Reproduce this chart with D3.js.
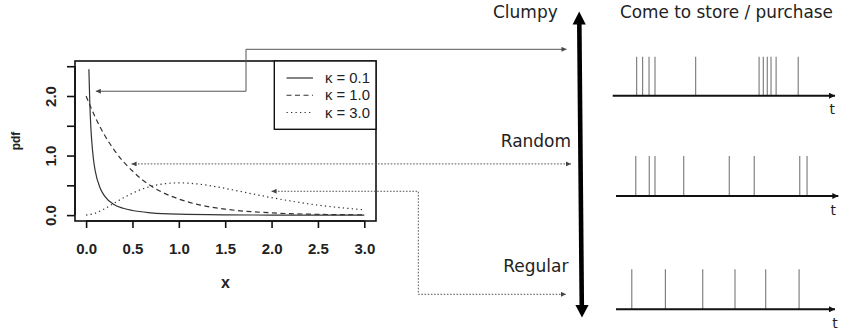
<!DOCTYPE html>
<html>
<head>
<meta charset="utf-8">
<script src="https://cdn.jsdelivr.net/npm/d3@7"></script>
<style>
  html, body { margin: 0; padding: 0; background: #fff; }
  svg { display: block; }
</style>
</head>
<body>
<svg id="fig" width="841" height="331"></svg>
<script>
// Gamma densities (rate 2) for three shape values
const x01   = [0.03, 0.04, 0.05, 0.06, 0.08, 0.1, 0.15, 0.2, 0.3, 0.4, 0.5, 0.7, 1.0, 1.5, 2.0, 2.5, 3.0];
const pdf01 = [2.45, 1.88, 1.51, 1.26, 0.93, 0.73, 0.46, 0.32, 0.18, 0.115, 0.077, 0.038, 0.015, 0.004, 0.001, 0.0003, 0.0001];
const x10   = [0, 0.1, 0.2, 0.3, 0.4, 0.5, 0.6, 0.8, 1.0, 1.2, 1.5, 2.0, 2.5, 3.0];
const pdf10 = [2.0, 1.64, 1.34, 1.10, 0.90, 0.74, 0.60, 0.40, 0.27, 0.18, 0.10, 0.037, 0.013, 0.005];
const x30   = [0, 0.1, 0.2, 0.3, 0.4, 0.5, 0.6, 0.7, 0.8, 0.9, 1.0, 1.2, 1.4, 1.6, 1.8, 2.0, 2.2, 2.5, 2.8, 3.0];
const pdf30 = [0, 0.033, 0.107, 0.198, 0.287, 0.368, 0.434, 0.483, 0.517, 0.535, 0.541, 0.523, 0.477, 0.418, 0.354, 0.293, 0.238, 0.168, 0.116, 0.089];

const legendLabels = ["κ = 0.1", "κ = 1.0", "κ = 3.0"];
const xTicks = [0, 0.5, 1.0, 1.5, 2.0, 2.5, 3.0];
const yTicks = [0, 0.5, 1.0, 1.5, 2.0, 2.5];
const yTickLabels = ["0.0", "", "1.0", "", "2.0", ""];

// Purchase timelines (time units 0-100)
const patternNames = ["Clumpy", "Random", "Regular"];
const clumpyTimes  = [9.8, 12.5, 15.4, 18.1, 36.5, 65.2, 67.1, 68.9, 70.6, 72.9, 82.9];
const randomTimes  = [9.4, 15.5, 18.1, 31.1, 51.7, 63.0, 83.6, 86.9];
const regularTimes = [7.6, 22.8, 39.7, 54.3, 68.2, 83.3];

// Points on the curves that the pattern arrows refer to
const pointClumpy  = [0.105, 2.08];
const pointRandom  = [0.49, 0.86];
const pointRegular = [2.0, 0.40];

const svg = d3.select("#fig");
const defs = svg.append("defs");
defs.append("marker")
  .attr("id", "head").attr("viewBox", "0 0 10 10")
  .attr("refX", 10).attr("refY", 5)
  .attr("markerWidth", 7).attr("markerHeight", 5)
  .attr("markerUnits", "userSpaceOnUse")
  .attr("orient", "auto-start-reverse")
  .append("path").attr("d", "M0,0L10,5L0,10Z").attr("fill", "#444");
defs.append("marker")
  .attr("id", "headT").attr("viewBox", "0 0 10 10")
  .attr("refX", 10).attr("refY", 5)
  .attr("markerWidth", 7).attr("markerHeight", 6)
  .attr("markerUnits", "userSpaceOnUse")
  .attr("orient", "auto")
  .append("path").attr("d", "M0,0L10,5L0,10Z").attr("fill", "#111");

// ---------- density plot ----------
const box = { left: 75, right: 376, top: 61, bottom: 221 };
const x = d3.scaleLinear().domain([0, 3]).range([86.1, 364.3]);
const y = d3.scaleLinear().domain([0, 2]).range([215.1, 96]);
const plotFont = "Liberation Sans, Arial, sans-serif";

const line = d3.line().x(d => x(d[0])).y(d => y(d[1])).curve(d3.curveMonotoneX);
const series = [
  { xs: x01, ys: pdf01, dash: null },
  { xs: x10, ys: pdf10, dash: "5,3.5" },
  { xs: x30, ys: pdf30, dash: "1.3,3.2" }
];
const curveG = svg.append("g");
series.forEach(s => {
  curveG.append("path")
    .attr("d", line(s.xs.map((v, i) => [v, s.ys[i]])))
    .attr("fill", "none").attr("stroke", "#333").attr("stroke-width", 1.2)
    .attr("stroke-dasharray", s.dash);
});

svg.append("rect")
  .attr("x", box.left).attr("y", box.top)
  .attr("width", box.right - box.left).attr("height", box.bottom - box.top)
  .attr("fill", "none").attr("stroke", "#111").attr("stroke-width", 1.6);

const xAxis = svg.append("g").attr("transform", `translate(0,${box.bottom})`)
  .call(d3.axisBottom(x).tickValues(xTicks).tickFormat(d3.format(".1f")).tickSize(7).tickPadding(15.5));
xAxis.select(".domain").attr("d", `M${x(0)},0H${x(3)}`).attr("stroke", "#111").attr("stroke-width", 1.6);
xAxis.selectAll(".tick line").attr("stroke", "#111").attr("stroke-width", 1.6);
xAxis.selectAll("text").attr("font-family", plotFont)
  .attr("font-size", 15).attr("font-weight", "bold").attr("fill", "#222");

const yAxis = svg.append("g").attr("transform", `translate(${box.left},0)`)
  .call(d3.axisLeft(y).tickValues(yTicks).tickFormat((d, i) => yTickLabels[i]).tickSize(8).tickPadding(0));
yAxis.select(".domain").attr("d", `M0,${y(0)}V${y(2.5)}`).attr("stroke", "#111").attr("stroke-width", 1.6);
yAxis.selectAll(".tick line").attr("stroke", "#111").attr("stroke-width", 1.6);
yAxis.selectAll("text")
  .attr("x", null).attr("dy", null)
  .attr("transform", "translate(-25,0) rotate(-90)")
  .attr("text-anchor", "middle").attr("dominant-baseline", "central")
  .attr("font-family", plotFont)
  .attr("font-size", 15).attr("font-weight", "bold").attr("fill", "#222");

svg.append("text").text("x")
  .attr("x", 225.5).attr("y", 287.5).attr("text-anchor", "middle")
  .attr("font-family", plotFont)
  .attr("font-size", 16).attr("font-weight", "bold").attr("fill", "#222");
svg.append("text").text("pdf")
  .attr("transform", "translate(19.5,141) rotate(-90)").attr("text-anchor", "middle")
  .attr("font-family", plotFont)
  .attr("font-size", 12).attr("font-weight", "bold").attr("fill", "#222");

// legend
const lg = { left: 274.3, top: box.top, right: box.right, bottom: 129.3 };
svg.append("rect")
  .attr("x", lg.left).attr("y", lg.top)
  .attr("width", lg.right - lg.left).attr("height", lg.bottom - lg.top)
  .attr("fill", "#fff").attr("stroke", "#111").attr("stroke-width", 1.4);
const rowY = d3.scalePoint().domain(legendLabels).range([78, 112.5]);
legendLabels.forEach((lab, i) => {
  svg.append("line")
    .attr("x1", 286.5).attr("x2", 313).attr("y1", rowY(lab)).attr("y2", rowY(lab))
    .attr("stroke", "#333").attr("stroke-width", 1.2)
    .attr("stroke-dasharray", series[i].dash);
  svg.append("text").text(lab)
    .attr("x", 325).attr("y", rowY(lab)).attr("dy", "0.36em")
    .attr("font-family", plotFont)
    .attr("font-size", 14).attr("fill", "#222")
    .attr("textLength", 45).attr("lengthAdjust", "spacingAndGlyphs");
});

// ---------- arrows from the curves to the patterns ----------
const arrowG = svg.append("g").attr("fill", "none").attr("stroke", "#555").attr("stroke-width", 1);
const pc = [x(pointClumpy[0]), y(pointClumpy[1])];
arrowG.append("path")
  .attr("d", `M${pc[0]},${pc[1]}H246V49.3H566.5`)
  .attr("marker-start", "url(#head)").attr("marker-end", "url(#head)");
const pr = [x(pointRandom[0]), y(pointRandom[1])];
arrowG.append("path")
  .attr("d", `M${pr[0]},${pr[1]}H571`)
  .attr("stroke-dasharray", "1.6,1.6")
  .attr("marker-start", "url(#head)").attr("marker-end", "url(#head)");
const pg = [x(pointRegular[0]), y(pointRegular[1])];
arrowG.append("path")
  .attr("d", `M${pg[0]},${pg[1]}H418.3V294.3H566`)
  .attr("stroke-dasharray", "1.6,1.6")
  .attr("marker-start", "url(#head)").attr("marker-end", "url(#head)");

// ---------- vertical clumpiness scale ----------
const big = svg.append("g").attr("fill", "#000");
big.append("line").attr("x1", 579.3).attr("y1", 22).attr("x2", 581.8).attr("y2", 307)
  .attr("stroke", "#000").attr("stroke-width", 4.6);
big.append("path").attr("d", "M579.2,11.5L585.8,24.5L572.6,24.5Z");
big.append("path").attr("d", "M582,317.5L588.6,305L575.4,305Z");

const labelFont = "DejaVu Sans, Verdana, sans-serif";
const patternLabelPos = [[493, 17.5], [500.7, 147.3], [503.3, 271.7]];
patternNames.forEach((n, i) => {
  svg.append("text").text(n)
    .attr("x", patternLabelPos[i][0]).attr("y", patternLabelPos[i][1])
    .attr("font-family", labelFont).attr("font-size", 17).attr("fill", "#222");
});
svg.append("text").text("Come to store / purchase")
  .attr("x", 620).attr("y", 17.5)
  .attr("font-family", labelFont).attr("font-size", 17).attr("fill", "#222")
  .attr("textLength", 213).attr("lengthAdjust", "spacingAndGlyphs");

// ---------- purchase timelines ----------
const t = d3.scaleLinear().domain([0, 100]).range([615, 836]);
const timelines = [
  { times: clumpyTimes,  axisY: 95.7,  top: 56.7,  x0: 612.7, x1: 835,   tx: 832.3, ty: 113.5 },
  { times: randomTimes,  axisY: 196,   top: 156,   x0: 616,   x1: 838.3, tx: 833.3, ty: 215 },
  { times: regularTimes, axisY: 309.3, top: 269.3, x0: 616,   x1: 835,   tx: 835,   ty: 327.5 }
];
timelines.forEach(tl => {
  const g = svg.append("g");
  g.selectAll("line.ev").data(tl.times).join("line").attr("class", "ev")
    .attr("x1", d => t(d)).attr("x2", d => t(d))
    .attr("y1", tl.top).attr("y2", tl.axisY)
    .attr("stroke", "#777").attr("stroke-width", 1.1);
  g.append("line")
    .attr("x1", tl.x0).attr("x2", tl.x1).attr("y1", tl.axisY).attr("y2", tl.axisY)
    .attr("stroke", "#111").attr("stroke-width", 2)
    .attr("marker-end", "url(#headT)");
  g.append("text").text("t")
    .attr("x", tl.tx).attr("y", tl.ty).attr("text-anchor", "middle")
    .attr("font-family", labelFont).attr("font-size", 14).attr("fill", "#222");
});
</script>
</body>
</html>
